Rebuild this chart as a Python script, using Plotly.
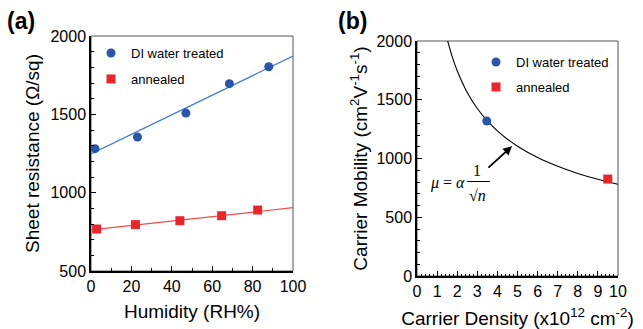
import plotly.graph_objects as go

W, H = 643, 329

# ---- Panel (a) data ----
hum_di = [2, 23, 47, 68.5, 88]
res_di = [1281, 1355, 1508, 1696, 1804]
hum_an = [2.8, 22, 44, 64.7, 82.5]
res_an = [768, 796, 821, 853, 889]
fit_x = [0, 100]
fit_di = [1247, 1872]
fit_an = [762, 904]

# ---- Panel (b) data ----
dens_di = [3.47]
mob_di = [1319]
dens_an = [9.49]
mob_an = [825]
curve_n = [1.5, 1.75, 2, 2.5, 3, 3.5, 4, 4.5, 5, 6, 7, 8, 9, 10]
curve_mu = [2017, 1867, 1747, 1562, 1426, 1320, 1235, 1164, 1105, 1008, 934, 873, 823, 781]

BLUE = "#2a55a8"
BLUE_L = "#3f77cf"
RED = "#e8262c"
RED_L = "#ef4a4a"
FONT = "Liberation Sans, Arial, sans-serif"

def px(x):
    return x / W

def py(y):
    return 1 - y / H

fig = go.Figure()

fig.add_trace(go.Scatter(x=fit_x, y=fit_di, mode="lines", line=dict(color=BLUE_L, width=1.2),
                         showlegend=False, xaxis="x", yaxis="y"))
fig.add_trace(go.Scatter(x=fit_x, y=fit_an, mode="lines", line=dict(color=RED_L, width=1.2),
                         showlegend=False, xaxis="x", yaxis="y"))
fig.add_trace(go.Scatter(x=hum_di, y=res_di, mode="markers", name="DI water treated",
                         marker=dict(color=BLUE, size=9, symbol="circle"),
                         xaxis="x", yaxis="y", legend="legend", cliponaxis=False))
fig.add_trace(go.Scatter(x=hum_an, y=res_an, mode="markers", name="annealed",
                         marker=dict(color=RED, size=9, symbol="square"),
                         xaxis="x", yaxis="y", legend="legend2", cliponaxis=False))

fig.add_trace(go.Scatter(x=curve_n, y=curve_mu, mode="lines", line=dict(color="black", width=1.1, shape="spline"),
                         showlegend=False, xaxis="x2", yaxis="y2"))
fig.add_trace(go.Scatter(x=dens_di, y=mob_di, mode="markers", name="DI water treated",
                         marker=dict(color=BLUE, size=9, symbol="circle"),
                         xaxis="x2", yaxis="y2", legend="legend3"))
fig.add_trace(go.Scatter(x=dens_an, y=mob_an, mode="markers", name="annealed",
                         marker=dict(color=RED, size=9, symbol="square"),
                         xaxis="x2", yaxis="y2", legend="legend4"))

axis_common = dict(showline=True, linecolor="black", linewidth=1.5, mirror=False,
                   ticks="inside", tickcolor="black", showgrid=False, zeroline=False,
                   automargin=False,
                   tickfont=dict(family=FONT, size=16, color="black"))

fig.update_layout(
    width=W, height=H,
    margin=dict(l=0, r=0, t=0, b=0),
    paper_bgcolor="white", plot_bgcolor="white",
    font=dict(family=FONT, color="black"),
    xaxis=dict(domain=[px(91), px(293)], range=[0, 100], dtick=20, ticklen=5,
               minor=dict(ticks="inside", dtick=10, ticklen=3, tickcolor="black"),
               title=dict(text="Humidity (RH%)", font=dict(size=19), standoff=11),
               anchor="y", **axis_common),
    yaxis=dict(domain=[py(271), py(36)], range=[500, 2000], dtick=500, ticklen=5,
               minor=dict(ticks="inside", dtick=100, ticklen=3, tickcolor="black"),
               title=dict(text="Sheet resistance (Ω/sq)", font=dict(size=19), standoff=6),
               anchor="x", **axis_common),
    xaxis2=dict(domain=[px(417), px(618)], range=[0, 10], dtick=1, ticklen=5,
                minor=dict(ticks="inside", dtick=0.2, ticklen=2.5, tickcolor="black"),
                title=dict(text="Carrier Density (x10<sup>12</sup> cm<sup>-2</sup>)", font=dict(size=19), standoff=13),
                anchor="y2", **axis_common),
    yaxis2=dict(domain=[py(276), py(41)], range=[0, 2000], dtick=500, ticklen=5,
                minor=dict(ticks="inside", dtick=100, ticklen=3, tickcolor="black"),
                title=dict(text="Carrier Mobility (cm<sup>2</sup>V<sup>-1</sup>s<sup>-1</sup>)", font=dict(size=19), standoff=4),
                anchor="x2", **axis_common),
)

leg_common = dict(xanchor="left", yanchor="middle", bgcolor="rgba(0,0,0,0)",
                  font=dict(family=FONT, size=13, color="black"), borderwidth=0)
fig.update_layout(
    legend=dict(x=px(91), y=py(53), **leg_common),
    legend2=dict(x=px(91), y=py(79), **leg_common),
    legend3=dict(x=px(476), y=py(62), **leg_common),
    legend4=dict(x=px(476), y=py(87), **leg_common),
)

# box (gray top/right)
for xr, yr in (("x domain", "y domain"), ("x2 domain", "y2 domain")):
    fig.add_shape(type="rect", xref=xr, yref=yr, x0=0, x1=1, y0=0, y1=1,
                  line=dict(color="#555555", width=1), layer="below")

# panel labels
fig.add_annotation(text="<b>(a)</b>", xref="paper", yref="paper", x=px(5), y=py(21),
                   xanchor="left", yanchor="middle", showarrow=False,
                   font=dict(family=FONT, size=23, color="black"))
fig.add_annotation(text="<b>(b)</b>", xref="paper", yref="paper", x=px(336), y=py(21),
                   xanchor="left", yanchor="middle", showarrow=False,
                   font=dict(family=FONT, size=23, color="black"))

# equation mu = alpha / sqrt(n)
SERIF = "Liberation Serif, DejaVu Serif, serif"
fig.add_annotation(text="<i>μ</i> = <i>α</i>", xref="x2", yref="y2", x=1.54, y=791,
                   showarrow=False, font=dict(family=SERIF, size=16, color="black"))
fig.add_annotation(text="1", xref="x2", yref="y2", x=2.99, y=902,
                   showarrow=False, font=dict(family=SERIF, size=16, color="black"))
fig.add_annotation(text="√<i>n</i>", xref="x2", yref="y2", x=3.03, y=681,
                   showarrow=False, font=dict(family=SERIF, size=16, color="black"))
fig.add_shape(type="line", xref="x2", yref="y2", x0=2.49, x1=3.63, y0=804, y1=804,
              line=dict(color="black", width=1))
# arrow
fig.add_annotation(text="", xref="x2", yref="y2", x=4.73, y=1106, ax=3.48, ay=911,
                   axref="x2", ayref="y2", showarrow=True, arrowhead=2, arrowsize=1,
                   arrowwidth=1.8, arrowcolor="black")

fig.write_html("out.html", config={"displayModeBar": False},
               post_script="document.body.style.margin='0';document.body.style.overflow='hidden';")
